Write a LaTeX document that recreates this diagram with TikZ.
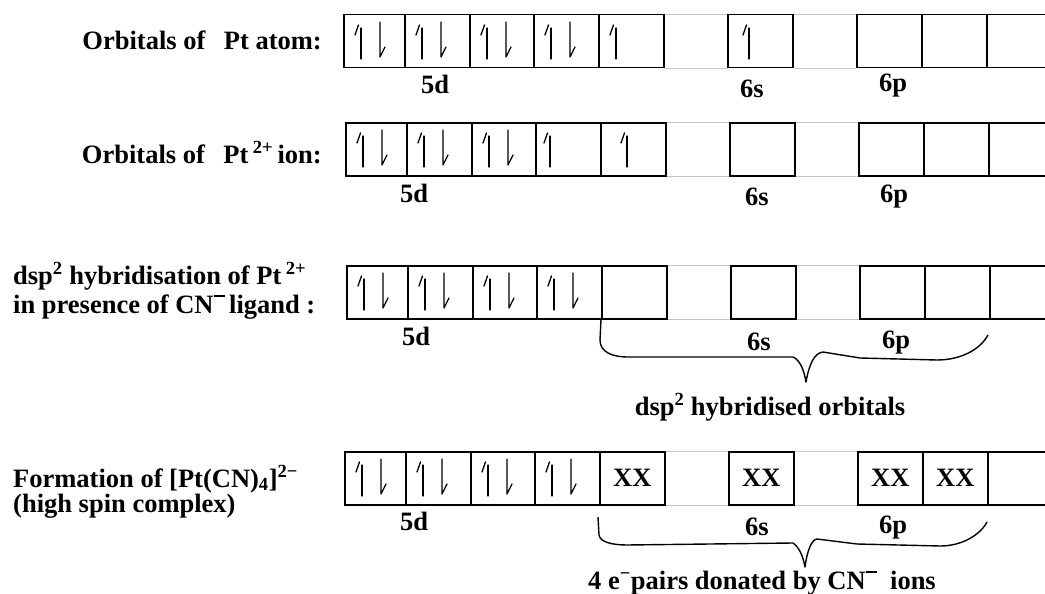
\documentclass[tikz,border=0pt]{standalone}
\usepackage{fontspec}
\setmainfont{Liberation Serif}
\newcommand\hibar{\raisebox{0.6em}{\rule{0.42em}{0.07em}}}
% one row of orbital boxes: #1 row name, #2 left edge, #3 top edge
\newcommand\orbrow[3]{%
  \foreach \n/\a/\b in {1/0/61,2/61/126,3/126/190,4/190/255,5/255/320,s/384/449,p1/513/578,p2/578/643,p3/643/720}{%
    \pgfmathsetmacro\w{\b-\a}%
    \node[orb, minimum width=\w pt] (#1\n) at ({#2+\a},#3) {};
  }%
  \draw[guide] (#15.north east) -- (#1s.north west) (#1s.north east) -- (#1p1.north west);
  \draw[guide] (#15.south east) -- (#1s.south west) (#1s.south east) -- (#1p1.south west);
}
% half-headed spin arrows, drawn inside a box
\newcommand\spinup[2][18]{%
  \begin{scope}[shift={(#2.north west)}]
    \draw[spin] (#1,45) -- (#1,14);
    \draw[spin] ({#1-6},21) -- ({#1-2.5},11);
  \end{scope}}
\newcommand\spindown[2][37]{%
  \begin{scope}[shift={(#2.north west)}]
    \draw[spin] (#1,8) -- (#1,43) -- ({#1+5},33);
  \end{scope}}
\newcommand\spinpair[1]{\spinup{#1}\spindown{#1}}
\begin{document}
\begin{tikzpicture}[x=1pt,y=-1pt,
  orb/.style={draw, line width=1.5pt, inner sep=0pt, minimum height=53pt, anchor=north west},
  guide/.style={draw=black!22, line width=0.9pt},
  spin/.style={line width=1.3pt, line cap=round, line join=round},
  hand/.style={line width=1.4pt, line join=round},
  txt/.style={font=\fontsize{26.5}{31}\selectfont\bfseries, inner sep=0pt},
  lab/.style={txt, anchor=base},
  pairs/.style={txt, anchor=center}]
\clip (0,0) rectangle (1045,594);
\fill[white] (0,0) rectangle (1045,594);

% ---- row 1: Pt atom
\orbrow{a}{343}{14}
\foreach \b in {a1,a2,a3,a4}{\spinpair{\b}}
\spinup{a5}
\spinup[22]{as}
\node[txt, anchor=base east] (la) at (322,50) {Orbitals of\hspace{0.45em} Pt atom:};
\node[lab] (a5d) at (435,93) {5d};
\node[lab] (a6s) at (752,97) {6s};
\node[lab] (a6p) at (893,92) {6p};

% ---- row 2: Pt2+ ion
\orbrow{b}{345}{122}
\foreach \b in {b1,b2,b3}{\spinpair{\b}}
\spinup[15]{b4}
\spinup[27]{b5}
\node[txt, anchor=base east] (lb) at (322,163) {Orbitals of\hspace{0.45em} Pt\,\textsuperscript{2+}\,ion:};
\node[lab] (b5d) at (414,202) {5d};
\node[lab] (b6s) at (757,205) {6s};
\node[lab] (b6p) at (894,202) {6p};

% ---- row 3: dsp2 hybridisation
\orbrow{c}{346}{265}
\foreach \b in {c1,c2,c3,c4}{\spinpair{\b}}
\node[txt, anchor=base west] (lc1) at (13,284) {dsp\textsuperscript{2} hybridisation of Pt\,\textsuperscript{2+}};
\node[txt, anchor=base west] (lc2) at (13,313) {in presence of CN\hibar\,ligand :};
\node[lab] (c5d) at (416,345) {5d};
\node[lab] (c6s) at (759,350) {6s};
\node[lab] (c6p) at (896,348) {6p};
\draw[hand] (c5.south west) -- (600,340) .. controls (600,352) and (612,357) .. (628,357)
  -- (793,357) .. controls (800,360) and (804,370) .. (806,382)
  .. controls (809,365) and (814,353) .. (823,352) -- (860,358) -- (937,360)
  .. controls (960,360) and (980,350) .. (988,335);
\node[lab] (chyb) at (770,415) {dsp\textsuperscript{2} hybridised orbitals};

% ---- row 4: [Pt(CN)4]2- complex
\orbrow{d}{344}{451}
\foreach \b in {d1,d2,d3,d4}{\spinpair{\b}}
\foreach \b in {d5,ds,dp1,dp2}{\node[pairs] at (\b.center) {XX};}
\node[txt, anchor=base west] (ld1) at (13,487) {Formation of [Pt(CN)\textsubscript{4}]\textsuperscript{2−}};
\node[txt, anchor=base west] (ld2) at (13,512) {(high spin complex)};
\node[lab] (d5d) at (414,530) {5d};
\node[lab] (d6s) at (757,535) {6s};
\node[lab] (d6p) at (893,533) {6p};
\draw[hand] (598,517) -- (599,535) .. controls (600,542) and (612,545) .. (627,545)
  -- (793,543) .. controls (799,547) and (803,556) .. (805,567)
  .. controls (807,552) and (811,540) .. (817,539) -- (857,544) -- (940,546)
  .. controls (962,546) and (980,535) .. (987,522);
\node[lab] (ddon) at (762,589) {4 e\textsuperscript{−}pairs donated by CN\hibar\ \ ions};
\end{tikzpicture}
\end{document}
